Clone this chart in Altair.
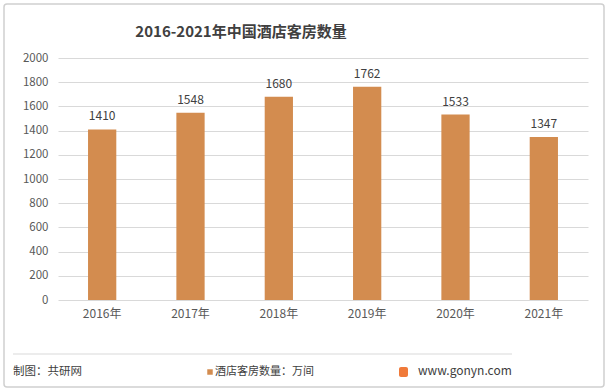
import altair as alt
import pandas as pd

years = ["2016年", "2017年", "2018年", "2019年", "2020年", "2021年"]
rooms = [1410, 1548, 1680, 1762, 1533, 1347]
y_ticks = [0, 200, 400, 600, 800, 1000, 1200, 1400, 1600, 1800, 2000]

title_text = "2016-2021年中国酒店客房数量"
source_text = "制图：共研网"
legend_text = "酒店客房数量：万间"
site_text = "www.gonyn.com"

FONT = "Noto Sans CJK SC"
BAR = "#D38C4F"

df = pd.DataFrame({"year": years, "rooms": rooms})

W, H = 530, 242
L, T = 58, 58

x_enc = alt.X("year:N", sort=years, title=None,
              scale=alt.Scale(paddingInner=0.68, paddingOuter=0.34),
              axis=alt.Axis(labelFont=FONT, labelFontSize=12, labelColor="#595959",
                            labelPadding=8, domain=False, ticks=False, labelAngle=0))
y_enc = alt.Y("rooms:Q", title=None,
              scale=alt.Scale(domain=[0, 2000]),
              axis=alt.Axis(values=y_ticks, format="d", labelOverlap=False,
                            labelFont=FONT, labelFontSize=11.5,
                            labelColor="#595959", labelPadding=10,
                            domain=False, ticks=False, gridColor="#D9D9D9",
                            gridWidth=1))

base = alt.Chart(df)

bars = base.mark_bar(color=BAR).encode(x=x_enc, y=y_enc)
labels = base.mark_text(dy=-13, font=FONT, fontSize=12, color="#404040").encode(
    x=x_enc, y=y_enc, text="rooms:Q")

one = pd.DataFrame({"a": [0]})
deco = alt.Chart(one)

border = deco.mark_rect(fill=None, stroke="#D0D0D0", strokeWidth=1.5, cornerRadius=3).encode(
    x=alt.value(4 - L), x2=alt.value(604 - L), y=alt.value(4 - T), y2=alt.value(387 - T))
sep = deco.mark_rule(color="#D9D9D9", strokeWidth=1).encode(
    x=alt.value(13 - L), x2=alt.value(512 - L), y=alt.value(354 - T))
title = deco.mark_text(font=FONT, fontSize=15, fontWeight="bold", color="#404040",
                       align="center", baseline="middle").encode(
    x=alt.value(241 - L), y=alt.value(32 - T), text=alt.value(title_text))
src = deco.mark_text(font=FONT, fontSize=11.5, color="#404040", align="left",
                     baseline="middle").encode(
    x=alt.value(13 - L), y=alt.value(372 - T), text=alt.value(source_text))
leg_sq = deco.mark_square(color=BAR, size=30, opacity=1).encode(
    x=alt.value(210 - L), y=alt.value(372 - T))
leg_txt = deco.mark_text(font=FONT, fontSize=11, color="#404040", align="left",
                         baseline="middle").encode(
    x=alt.value(215 - L), y=alt.value(372 - T), text=alt.value(legend_text))
logo = deco.mark_rect(color="#F07A3A", cornerRadius=2).encode(
    x=alt.value(399 - L), x2=alt.value(408 - L), y=alt.value(367 - T), y2=alt.value(377 - T))
site = deco.mark_text(font=FONT, fontSize=12, color="#404040", align="left",
                      baseline="middle").encode(
    x=alt.value(418 - L), y=alt.value(371 - T), text=alt.value(site_text))

chart = alt.layer(bars, labels, border, sep, title, src, leg_sq, leg_txt, logo, site).properties(
    width=W, height=H,
    autosize=alt.AutoSizeParams(type="none"),
    padding={"left": L, "top": T, "right": 612 - L - W, "bottom": 391 - T - H},
    background="white",
).configure_view(stroke=None)

chart.save("out.html", embed_options={"renderer": "svg", "actions": False})
